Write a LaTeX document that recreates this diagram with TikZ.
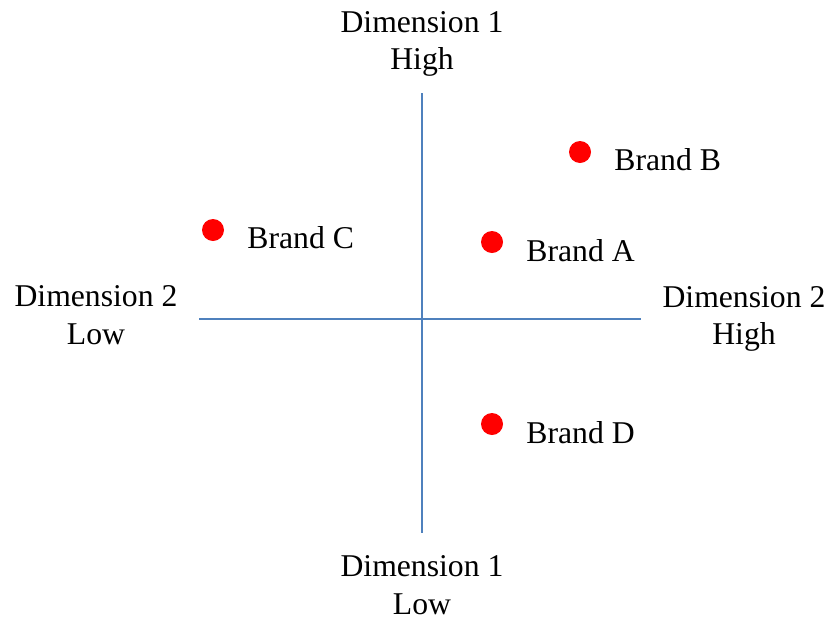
\documentclass[tikz,border=0pt]{standalone}
\usepackage{fontspec}
\setmainfont{Liberation Serif}
\usepackage{tikz}
\usetikzlibrary{positioning}

\begin{document}
\begin{tikzpicture}[
    x=1pt, y=-1pt,
    axis_line/.style={line width=1.6pt, draw={rgb,255:red,79;green,129;blue,189}},
    brand_dot/.style={circle, fill=red, inner sep=0pt, minimum size=22pt},
    brand_label/.style={font=\fontsize{31.7}{37.5}\selectfont, inner sep=0pt, anchor=west},
    axis_label/.style={font=\fontsize{31.7}{37.5}\selectfont, align=center, inner sep=0pt},
    node distance=23pt
]
    \useasboundingbox (0,0) rectangle (830,619);

    % Axes
    \coordinate (top) at (422,93);
    \coordinate (bottom) at (422,533);
    \coordinate (left) at (199,319);
    \coordinate (right) at (641,319);
    \draw[axis_line] (top) -- (bottom);
    \draw[axis_line] (left) -- (right);

    % Axis labels
    \node[axis_label] (dim1high) at (422,44) {Dimension 1\\High};
    \node[axis_label] (dim1low) at (422,585) {Dimension 1\\Low};
    \node[axis_label] (dim2low) at (96,315) {Dimension 2\\Low};
    \node[axis_label] (dim2high) at (744,319) {Dimension 2\\High};

    % Brands
    \node[brand_dot] (dotA) at (492,242) {};
    \node[brand_dot] (dotB) at (580,152) {};
    \node[brand_dot] (dotC) at (213,230) {};
    \node[brand_dot] (dotD) at (492,424) {};

    \node[brand_label, right=of dotA, yshift=-9pt] (brandA) {Brand A};
    \node[brand_label, right=of dotB, yshift=-8pt] (brandB) {Brand B};
    \node[brand_label, right=of dotC, yshift=-8pt] (brandC) {Brand C};
    \node[brand_label, right=of dotD, yshift=-9pt] (brandD) {Brand D};
\end{tikzpicture}
\end{document}
